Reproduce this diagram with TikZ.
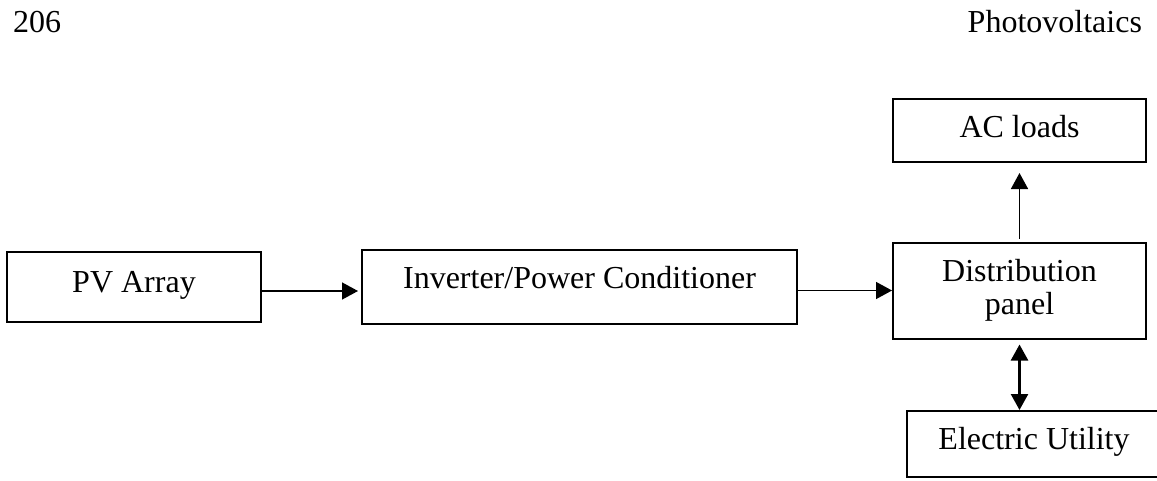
\documentclass[tikz,border=0pt]{standalone}
\usepackage{fontspec}
\setmainfont{Liberation Serif}
\usetikzlibrary{shapes,arrows,arrows.meta,positioning}

\begin{document}
\begin{tikzpicture}[
    x=0.5pt, y=-0.5pt,
    txt/.style={font=\fontsize{16}{16.5}\selectfont},
    block/.style={rectangle, draw, line width=1pt, inner sep=0pt, txt},
    arr/.style={-{Triangle[length=8pt,width=8.5pt]}, line width=0.75pt},
    both/.style={{Triangle[length=8pt,width=8.5pt]}-{Triangle[length=8pt,width=8.5pt]}, line width=1.2pt}]
    \useasboundingbox (0,0) rectangle (1157,481);
    \node[txt, anchor=base west] (page) at (6,33) {206};
    \node[txt, anchor=base east] (title) at (1149,33) {Photovoltaics};
    \node[block, minimum width=127pt, minimum height=35pt, text height=11pt, text depth=5.4pt] (pv) at (134,287) {PV Array};
    \node[block, minimum width=217.5pt, minimum height=37pt, text height=11pt, text depth=9.4pt] (inv) at (579.5,287) {Inverter/Power Conditioner};
    \node[block, minimum width=126.5pt, minimum height=31.5pt, text height=11pt, text depth=3.9pt] (ac) at (1019.5,130.5) {AC loads};
    \node[block, minimum width=126.5pt, minimum height=48pt, align=center] (dist) at (1019.5,290.5) {Distribution\\panel};
    \node[block, minimum width=127pt, minimum height=33pt, text height=11pt, text depth=5.4pt] (eu) at (1034,444) {Electric Utility};
    \draw[arr, shorten >=1.5pt] ([yshift=-2pt]pv.east) -- ([yshift=-2pt]inv.west);
    \draw[arr] ([xshift=-1pt]inv.east |- dist.west) -- (dist.west);
    \draw[arr] ([yshift=1.5pt]dist.north) -- ([yshift=-5pt]ac.south);
    \draw[both] ([yshift=-2.5pt]dist.south) -- (dist.south |- eu.north);
\end{tikzpicture}
\end{document}
